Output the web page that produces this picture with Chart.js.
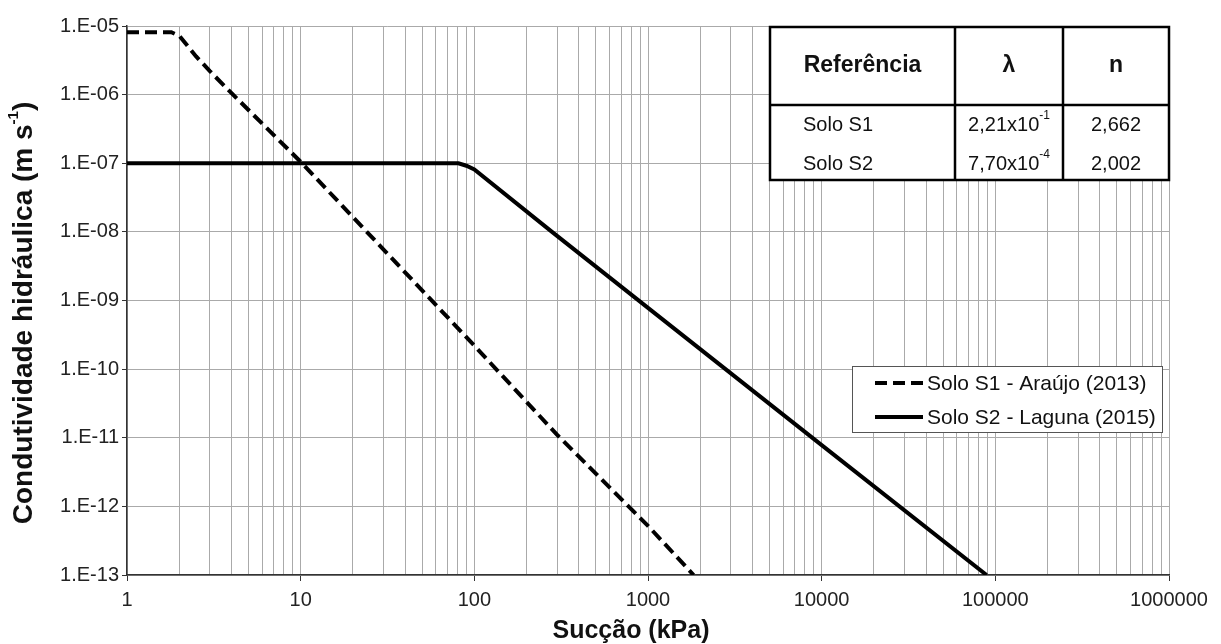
<!DOCTYPE html>
<html lang="pt">
<head>
<meta charset="utf-8">
<title>Condutividade hidráulica x Sucção</title>
<script src="https://cdn.jsdelivr.net/npm/chart.js@4/dist/chart.umd.min.js"></script>
<style>
  html, body { margin: 0; padding: 0; background: #fff; }
  #wrap { width: 1221px; height: 644px; }
</style>
</head>
<body>
<div id="wrap"><canvas id="chart" width="1221" height="644"></canvas></div>
<script>
// values
const s1Suction = [1, 1.8, 2, 2.5, 3, 4, 10, 100, 300, 1000, 1830];
const s1Conductivity = [8.1e-6, 8.1e-6, 7.2e-6, 3.6e-6, 2.2e-6, 1.05e-6, 1.05e-7, 2.2e-10, 1.1e-11, 5.2e-13, 1e-13];
const s2Suction = [1, 81, 90, 100, 280, 1000, 10000, 89000];
const s2Conductivity = [1e-7, 1e-7, 9.2e-8, 8.1e-8, 1e-8, 7.8e-10, 7.8e-12, 1e-13];

const seriesLabels = ["Solo S1 - Araújo (2013)", "Solo S2 - Laguna (2015)"];
const xTickLabels = ["1", "10", "100", "1000", "10000", "100000", "1000000"];
const yTickLabels = ["1.E-13", "1.E-12", "1.E-11", "1.E-10", "1.E-09", "1.E-08", "1.E-07", "1.E-06", "1.E-05"];

const tableHeader = ["Referência", "λ", "n"];
const tableRows = ["Solo S1", "Solo S2"];
const lambdaBase = ["2,21x10", "7,70x10"];
const lambdaExp = ["-1", "-4"];
const nValues = ["2,662", "2,002"];

const FONT = '"Liberation Sans", Arial, sans-serif';
const isDecade = (v) => Math.abs(Math.log10(v) - Math.round(Math.log10(v))) < 1e-9;

const toPoints = (xs, ys) => xs.map((x, i) => ({ x, y: ys[i] }));

const overlay = {
  id: "overlay",
  afterDraw(chart) {
    const ctx = chart.ctx;
    const a = chart.chartArea;
    ctx.save();
    ctx.fillStyle = "#111";

    // x axis title
    ctx.font = "bold 25px " + FONT;
    ctx.textAlign = "center";
    ctx.textBaseline = "alphabetic";
    ctx.fillText("Sucção (kPa)", 631, 638);

    // y axis title with superscript
    ctx.save();
    ctx.translate(24, 313);
    ctx.rotate(-Math.PI / 2);
    const main = "Condutividade hidráulica (m s";
    ctx.font = "bold 28px " + FONT;
    const w1 = ctx.measureText(main).width;
    const w3 = ctx.measureText(")").width;
    ctx.font = "bold 15px " + FONT;
    const w2 = ctx.measureText("-1").width;
    let x0 = -(w1 + w2 + w3) / 2;
    ctx.textAlign = "left";
    ctx.textBaseline = "middle";
    ctx.font = "bold 28px " + FONT;
    ctx.fillText(main, x0, 0);
    ctx.font = "bold 15px " + FONT;
    ctx.fillText("-1", x0 + w1, -10);
    ctx.font = "bold 28px " + FONT;
    ctx.fillText(")", x0 + w1 + w2, 0);
    ctx.restore();

    // parameter table
    const tL = 770, tR = a.right, tT = a.top + 1, tB = 180;
    const c1 = 955, c2 = 1063, hB = 105;
    ctx.fillStyle = "#fff";
    ctx.fillRect(tL, tT, tR - tL, tB - tT);
    ctx.strokeStyle = "#000";
    ctx.lineWidth = 2.5;
    ctx.strokeRect(tL, tT, tR - tL, tB - tT);
    ctx.beginPath();
    ctx.moveTo(c1, tT); ctx.lineTo(c1, tB);
    ctx.moveTo(c2, tT); ctx.lineTo(c2, tB);
    ctx.moveTo(tL, hB); ctx.lineTo(tR, hB);
    ctx.stroke();

    ctx.fillStyle = "#111";
    ctx.textBaseline = "middle";
    ctx.textAlign = "center";
    ctx.font = "bold 23px " + FONT;
    const colMid = [(tL + c1) / 2, (c1 + c2) / 2, (c2 + tR) / 2];
    tableHeader.forEach((h, i) => ctx.fillText(h, colMid[i], 66));

    const rowY = [125, 164];
    tableRows.forEach((name, i) => {
      ctx.font = "20px " + FONT;
      ctx.textAlign = "left";
      ctx.fillText(name, 803, rowY[i]);
      // lambda with exponent
      const bw = ctx.measureText(lambdaBase[i]).width;
      ctx.font = "12px " + FONT;
      const ew = ctx.measureText(lambdaExp[i]).width;
      const lx = colMid[1] - (bw + ew) / 2;
      ctx.font = "20px " + FONT;
      ctx.fillText(lambdaBase[i], lx, rowY[i]);
      ctx.font = "12px " + FONT;
      ctx.fillText(lambdaExp[i], lx + bw, rowY[i] - 9);
      ctx.font = "20px " + FONT;
      ctx.textAlign = "center";
      ctx.fillText(nValues[i], colMid[2], rowY[i]);
    });

    // legend
    const lL = 852, lT = 366, lR = 1162, lB = 432;
    ctx.fillStyle = "#fff";
    ctx.fillRect(lL, lT, lR - lL, lB - lT);
    ctx.strokeStyle = "#555";
    ctx.lineWidth = 1;
    ctx.strokeRect(lL + 0.5, lT + 0.5, lR - lL, lB - lT);
    const legY = [383, 417];
    chart.data.datasets.forEach((ds, i) => {
      ctx.strokeStyle = "#000";
      ctx.lineWidth = 4;
      ctx.setLineDash(ds.borderDash || []);
      ctx.beginPath();
      ctx.moveTo(875, legY[i]);
      ctx.lineTo(923, legY[i]);
      ctx.stroke();
      ctx.setLineDash([]);
      ctx.fillStyle = "#111";
      ctx.font = "21px " + FONT;
      ctx.textAlign = "left";
      ctx.textBaseline = "middle";
      ctx.fillText(seriesLabels[i], 927, legY[i] + 1);
    });
    ctx.restore();
  }
};

new Chart(document.getElementById("chart"), {
  type: "line",
  data: {
    datasets: [
      {
        label: seriesLabels[0],
        data: toPoints(s1Suction, s1Conductivity),
        borderColor: "#000",
        borderWidth: 4,
        borderDash: [12, 6],
        pointRadius: 0,
        tension: 0
      },
      {
        label: seriesLabels[1],
        data: toPoints(s2Suction, s2Conductivity),
        borderColor: "#000",
        borderWidth: 4,
        pointRadius: 0,
        tension: 0
      }
    ]
  },
  options: {
    responsive: false,
    animation: false,
    layout: { padding: { top: 26, right: 52, left: 0, bottom: 0 } },
    plugins: { legend: { display: false }, tooltip: { enabled: false } },
    scales: {
      x: {
        type: "logarithmic",
        min: 1,
        max: 1e6,
        afterBuildTicks(scale) {
          const t = [];
          for (let e = 0; e < 6; e++) {
            for (let m = 1; m <= 9; m++) t.push({ value: m * Math.pow(10, e) });
          }
          t.push({ value: 1e6 });
          scale.ticks = t;
        },
        afterFit(scale) { scale.height = 69; },
        ticks: {
          autoSkip: false,
          maxRotation: 0,
          padding: 7,
          color: "#222",
          font: { family: FONT, size: 20 },
          callback: (v) => isDecade(v) ? xTickLabels[Math.round(Math.log10(v))] : ""
        },
        grid: {
          color: "#aaa",
          lineWidth: 1,
          tickLength: 6,
          tickColor: (c) => (c.tick && isDecade(c.tick.value)) ? "#333" : "rgba(0,0,0,0)"
        },
        border: { color: "#333", width: 1.5 }
      },
      y: {
        type: "logarithmic",
        min: 1e-13,
        max: 1e-5,
        afterBuildTicks(scale) {
          scale.ticks = yTickLabels.map((_, i) => ({ value: Math.pow(10, i - 13) }));
        },
        afterFit(scale) { scale.width = 127; },
        ticks: {
          padding: 3,
          color: "#222",
          font: { family: FONT, size: 20 },
          callback: (v) => yTickLabels[Math.round(Math.log10(v)) + 13]
        },
        grid: {
          color: "#aaa",
          lineWidth: 1,
          tickLength: 5,
          tickColor: "#333"
        },
        border: { color: "#333", width: 1.5 }
      }
    }
  },
  plugins: [overlay]
});
</script>
</body>
</html>
